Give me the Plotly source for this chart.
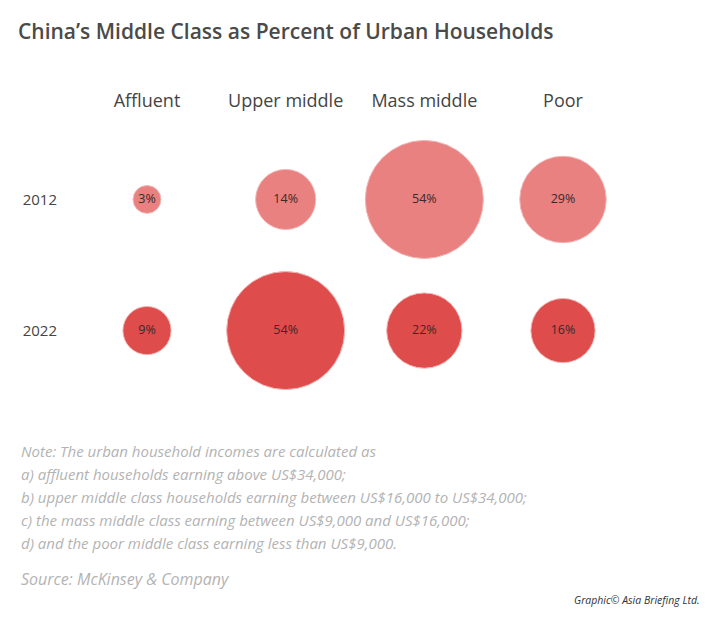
import plotly.graph_objects as go

categories = ["Affluent", "Upper middle", "Mass middle", "Poor"]
years = ["2012", "2022"]
values_2012 = [3, 14, 54, 29]
values_2022 = [9, 54, 22, 16]

colors = {"2012": "#E88180", "2022": "#DE4C4C"}
series = {"2012": values_2012, "2022": values_2022}

max_val = max(values_2012 + values_2022)
max_diam = 118
sizeref = 2.0 * max_val / (max_diam ** 2)

fig = go.Figure()
for yr in years:
    vals = series[yr]
    fig.add_trace(go.Scatter(
        x=categories,
        y=[yr] * len(categories),
        mode="markers+text",
        marker=dict(size=vals, sizemode="area", sizeref=sizeref, sizemin=0,
                    color=colors[yr], opacity=1,
                    line=dict(width=1, color="#F2B5B5")),
        text=[f"{v}%" for v in vals],
        textposition="middle center",
        textfont=dict(family="Open Sans", size=12.5, color="#3a2a2a"),
        hoverinfo="skip",
        showlegend=False,
    ))

note_lines = [
    "Note: The urban household incomes are calculated as",
    "a) affluent households earning above US$34,000;",
    "b) upper middle class households earning between US$16,000 to US$34,000;",
    "c) the mass middle class earning between US$9,000 and US$16,000;",
    "d) and the poor middle class earning less than US$9,000.",
]
source_text = "Source: McKinsey & Company"
credit_text = "Graphic© Asia Briefing Ltd."
title_text = "China’s Middle Class as Percent of Urban Households"

W, H = 720, 631
ml, mr, mt, mb = 62, 20, 112, 211
pw, ph = W - ml - mr, H - mt - mb


def px(x):
    return (x - ml) / pw


def py(y):
    return (H - mb - y) / ph


annotations = []
note_y0 = 451
for i, line in enumerate(note_lines):
    annotations.append(dict(
        text=f"<i>{line}</i>", x=px(19), y=py(note_y0 + 23 * i),
        xref="paper", yref="paper", xanchor="left", yanchor="middle",
        showarrow=False, font=dict(family="Open Sans", size=15, color="#B3B3B3")))
annotations.append(dict(
    text=f"<i>{source_text}</i>", x=px(19), y=py(579),
    xref="paper", yref="paper", xanchor="left", yanchor="middle",
    showarrow=False, font=dict(family="Open Sans", size=16, color="#B3B3B3")))
annotations.append(dict(
    text=f"<i>{credit_text}</i>", x=px(702), y=py(600),
    xref="paper", yref="paper", xanchor="right", yanchor="middle",
    showarrow=False, font=dict(family="Open Sans", size=10.5, color="#333333")))

fig.update_layout(
    width=W, height=H,
    margin=dict(l=ml, r=mr, t=mt, b=mb),
    paper_bgcolor="white", plot_bgcolor="white",
    title=dict(text=title_text, x=18 / W, xanchor="left", y=1 - 32 / H, yanchor="middle",
               font=dict(family="Open Sans", size=21, color="#4A4A4A", weight=600)),
    xaxis=dict(type="category", categoryorder="array", categoryarray=categories,
               side="top", range=[-0.613, 3.988], showgrid=False, zeroline=False,
               showline=False, ticks="", tickfont=dict(family="Open Sans", size=18, color="#444444")),
    yaxis=dict(type="category", categoryorder="array", categoryarray=years,
               range=[1.682, -0.667], showgrid=False, zeroline=False, showline=False,
               ticks="", ticklabelstandoff=4,
               tickfont=dict(family="Open Sans", size=15, color="#444444")),
    annotations=annotations,
)

fig.write_html("out.html", config={"displayModeBar": False},
               post_script="document.body.style.margin='0';document.body.style.padding='0';")
